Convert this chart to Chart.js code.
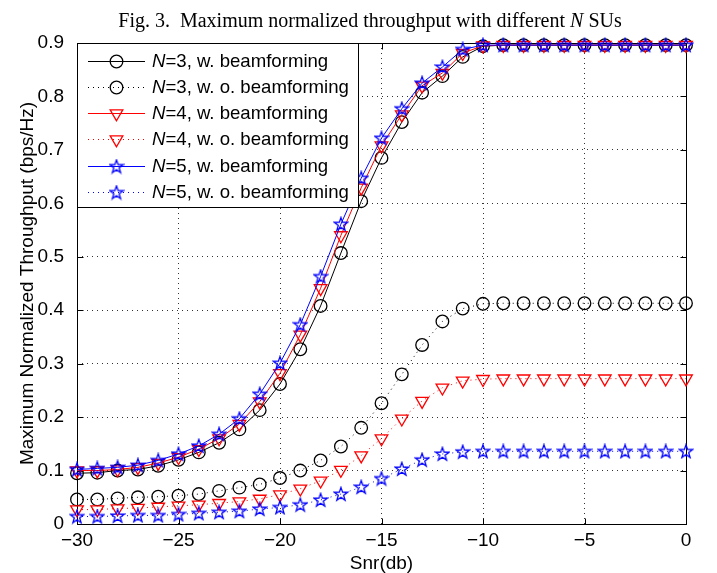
<!DOCTYPE html>
<html>
<head>
<meta charset="utf-8">
<script src="https://cdn.jsdelivr.net/npm/chart.js@4.4.1/dist/chart.umd.min.js"></script>
<style>
  html, body { margin: 0; padding: 0; background: #fff; }
  #wrap { width: 717px; height: 573px; }
</style>
</head>
<body>
<div id="wrap"><canvas id="chart" width="717" height="573"></canvas></div>
<script>
// Abscisse : SNR en dB
const snr = [-30, -29, -28, -27, -26, -25, -24, -23, -22, -21, -20, -19, -18, -17, -16,
  -15, -14, -13, -12, -11, -10, -9, -8, -7, -6, -5, -4, -3, -2, -1, 0];

// Débit normalisé maximum
const n3With = [0.095, 0.096, 0.100, 0.102, 0.109, 0.120, 0.134, 0.152, 0.177, 0.213, 0.262,
  0.327, 0.408, 0.507, 0.604, 0.685, 0.752, 0.807, 0.838, 0.874, 0.894,
  0.896, 0.896, 0.896, 0.896, 0.896, 0.896, 0.896, 0.896, 0.896, 0.896];
const n3Without = [0.046, 0.046, 0.048, 0.050, 0.051, 0.053, 0.056, 0.062, 0.068, 0.074, 0.086,
  0.100, 0.119, 0.145, 0.180, 0.226, 0.280, 0.335, 0.379, 0.403, 0.412,
  0.413, 0.413, 0.413, 0.413, 0.413, 0.413, 0.413, 0.413, 0.413, 0.413];
const n4With = [0.100, 0.100, 0.102, 0.106, 0.114, 0.125, 0.140, 0.160, 0.187, 0.229, 0.282,
  0.354, 0.441, 0.540, 0.629, 0.708, 0.766, 0.820, 0.844, 0.881, 0.895,
  0.896, 0.896, 0.896, 0.896, 0.896, 0.896, 0.896, 0.896, 0.896, 0.896];
const n4Without = [0.027, 0.027, 0.029, 0.030, 0.032, 0.034, 0.036, 0.039, 0.042, 0.047, 0.055,
  0.066, 0.081, 0.101, 0.128, 0.160, 0.197, 0.230, 0.255, 0.268, 0.271,
  0.272, 0.272, 0.272, 0.272, 0.272, 0.272, 0.272, 0.272, 0.272, 0.272];
const n5With = [0.102, 0.104, 0.106, 0.110, 0.119, 0.131, 0.146, 0.168, 0.197, 0.243, 0.301,
  0.373, 0.463, 0.561, 0.647, 0.722, 0.777, 0.825, 0.855, 0.888, 0.896,
  0.896, 0.896, 0.896, 0.896, 0.896, 0.896, 0.896, 0.896, 0.896, 0.896];
const n5Without = [0.014, 0.014, 0.015, 0.016, 0.016, 0.018, 0.020, 0.022, 0.024, 0.028, 0.031,
  0.036, 0.045, 0.056, 0.069, 0.085, 0.103, 0.120, 0.131, 0.135, 0.136,
  0.136, 0.136, 0.136, 0.136, 0.136, 0.136, 0.136, 0.136, 0.136, 0.136];

const seriesLabels = ['N=3, w. beamforming', 'N=3, w. o. beamforming',
  'N=4, w. beamforming', 'N=4, w. o. beamforming',
  'N=5, w. beamforming', 'N=5, w. o. beamforming'];

const xTicks = [-30, -25, -20, -15, -10, -5, 0];
const yTicks = [0, 0.1, 0.2, 0.3, 0.4, 0.5, 0.6, 0.7, 0.8, 0.9];

const SANS = '"Liberation Sans", Arial, Helvetica, sans-serif';
const SERIF = '"Liberation Serif", "Times New Roman", serif';

// Étoile à cinq branches (le "star" de Chart.js est une astérisque)
function makeStar(color) {
  const c = document.createElement('canvas');
  c.width = 16;
  c.height = 16;
  const g = c.getContext('2d');
  g.strokeStyle = color;
  g.lineWidth = 1.3;
  g.beginPath();
  for (let k = 0; k < 10; k++) {
    const r = k % 2 === 0 ? 7 : 2.8;
    const a = -Math.PI / 2 + k * Math.PI / 5;
    const px = 8 + r * Math.cos(a);
    const py = 8.4 + r * Math.sin(a);
    if (k === 0) g.moveTo(px, py); else g.lineTo(px, py);
  }
  g.closePath();
  g.stroke();
  return c;
}
const blueStar = makeStar('#0000ff');

function toPoints(values) {
  return snr.map((x, i) => ({ x: x, y: values[i] }));
}

function series(label, values, color, dotted, marker) {
  const ds = {
    label: label,
    data: toPoints(values),
    borderColor: color,
    backgroundColor: color,
    borderWidth: 1,
    borderDash: dotted ? [1, 4] : [],
    pointBorderColor: color,
    pointBackgroundColor: 'rgba(0,0,0,0)',
    pointBorderWidth: 1.3,
    pointRadius: 6.3,
    pointRotation: 0,
    pointStyle: 'circle',
    tension: 0,
    clip: false
  };
  if (marker === 'tri') {
    ds.pointStyle = 'triangle';
    ds.pointRotation = 180;
    ds.pointRadius = 7.3;
  } else if (marker === 'star') {
    ds.pointStyle = blueStar;
    ds.pointRadius = 7;
  }
  return ds;
}

const datasets = [
  series(seriesLabels[0], n3With, '#000000', false, 'circle'),
  series(seriesLabels[1], n3Without, '#000000', true, 'circle'),
  series(seriesLabels[2], n4With, '#ff0000', false, 'tri'),
  series(seriesLabels[3], n4Without, '#ff0000', true, 'tri'),
  series(seriesLabels[4], n5With, '#0000ff', false, 'star'),
  series(seriesLabels[5], n5Without, '#0000ff', true, 'star')
];
// comme sous MATLAB, la dernière courbe passe au-dessus
datasets.forEach((ds, i) => { ds.order = datasets.length - i; });

// Cadre, graduations intérieures, titre et légende
const figurePlugin = {
  id: 'figure',
  beforeDatasetsDraw(chart) {
    const { ctx, chartArea: a, scales: { x, y } } = chart;
    const L = Math.round(a.left) + 0.5, R = Math.round(a.right) + 0.5;
    const T = Math.round(a.top) + 0.5, B = Math.round(a.bottom) + 0.5;
    ctx.save();
    ctx.strokeStyle = '#000';
    ctx.lineWidth = 1;
    ctx.beginPath();
    xTicks.forEach(v => {
      const px = Math.round(x.getPixelForValue(v)) + 0.5;
      ctx.moveTo(px, B); ctx.lineTo(px, B - 6);
      ctx.moveTo(px, T); ctx.lineTo(px, T + 6);
    });
    yTicks.forEach(v => {
      const py = Math.round(y.getPixelForValue(v)) + 0.5;
      ctx.moveTo(L, py); ctx.lineTo(L + 6, py);
      ctx.moveTo(R, py); ctx.lineTo(R - 6, py);
    });
    ctx.stroke();
    ctx.strokeRect(L, T, R - L, B - T);
    ctx.restore();
  },
  afterDraw(chart) {
    const ctx = chart.ctx;
    ctx.save();

    // titre
    const parts = [
      ['Fig. 3.  Maximum normalized throughput with different ', ''],
      ['N', 'italic '],
      [' SUs', '']
    ];
    let total = 0;
    parts.forEach(p => { ctx.font = p[1] + '20px ' + SERIF; total += ctx.measureText(p[0]).width; });
    let tx = 370 - total / 2;
    ctx.fillStyle = '#000';
    ctx.textBaseline = 'alphabetic';
    parts.forEach(p => {
      ctx.font = p[1] + '20px ' + SERIF;
      ctx.fillText(p[0], tx, 27);
      tx += ctx.measureText(p[0]).width;
    });

    // légende
    const box = { left: 77, top: 43, right: 358, bottom: 207 };
    ctx.fillStyle = '#fff';
    ctx.fillRect(box.left, box.top, box.right - box.left, box.bottom - box.top);
    ctx.strokeStyle = '#000';
    ctx.lineWidth = 1;
    ctx.strokeRect(box.left + 0.5, box.top + 0.5, box.right - box.left, box.bottom - box.top);

    chart.data.datasets.forEach((ds, i) => {
      const cy = Math.round(60.7 + i * 26.2) + 0.5;
      ctx.strokeStyle = ds.borderColor;
      ctx.lineWidth = ds.borderWidth;
      ctx.setLineDash(ds.borderDash);
      ctx.beginPath();
      ctx.moveTo(88, cy);
      ctx.lineTo(145, cy);
      ctx.stroke();
      ctx.setLineDash([]);
      ctx.lineWidth = ds.pointBorderWidth;
      ctx.fillStyle = 'rgba(0,0,0,0)';
      Chart.helpers.drawPoint(ctx, {
        pointStyle: ds.pointStyle,
        rotation: ds.pointRotation,
        radius: ds.pointRadius,
        borderWidth: ds.pointBorderWidth
      }, 116.5, cy);

      ctx.fillStyle = '#000';
      ctx.textBaseline = 'middle';
      ctx.font = 'italic 18.6px ' + SANS;
      ctx.fillText(ds.label[0], 152, cy);
      const w = ctx.measureText(ds.label[0]).width;
      ctx.font = '18.6px ' + SANS;
      ctx.fillText(ds.label.slice(1), 152 + w, cy);
    });
    ctx.restore();
  }
};

new Chart(document.getElementById('chart'), {
  type: 'line',
  data: { datasets: datasets },
  plugins: [figurePlugin],
  options: {
    responsive: false,
    devicePixelRatio: 1,
    animation: false,
    events: [],
    layout: { padding: { top: 43, right: 31, left: 0, bottom: 0 } },
    plugins: {
      legend: { display: false },
      title: { display: false },
      tooltip: { enabled: false }
    },
    scales: {
      x: {
        type: 'linear',
        min: -30,
        max: 0,
        afterFit(scale) { scale.height = 49; },
        afterBuildTicks(scale) { scale.ticks = xTicks.map(v => ({ value: v })); },
        border: { display: false, dash: [1, 4] },
        grid: { color: 'rgba(0,0,0,0.8)', lineWidth: 1, drawTicks: false },
        ticks: {
          color: '#000',
          padding: 5,
          maxRotation: 0,
          font: { family: SANS, size: 19 },
          callback: v => (v < 0 ? '\u2212' + Math.abs(v) : String(v))
        },
        title: {
          display: true,
          text: 'Snr(db)',
          color: '#000',
          font: { family: SANS, size: 19, lineHeight: 1.0 },
          padding: { top: 0, bottom: 0 }
        }
      },
      y: {
        type: 'linear',
        min: 0,
        max: 0.9,
        afterFit(scale) { scale.width = 77; },
        afterBuildTicks(scale) { scale.ticks = yTicks.map(v => ({ value: v })); },
        border: { display: false, dash: [1, 4] },
        grid: { color: 'rgba(0,0,0,0.8)', lineWidth: 1, drawTicks: false },
        ticks: {
          color: '#000',
          padding: 13,
          font: { family: SANS, size: 19 },
          callback: v => (v === 0 ? '0' : v.toFixed(1))
        },
        title: {
          display: true,
          text: 'Maximum Normalized Throughput (bps/Hz)',
          color: '#000',
          font: { family: SANS, size: 19 },
          padding: { top: 16, bottom: 0 }
        }
      }
    }
  }
});
</script>
</body>
</html>
